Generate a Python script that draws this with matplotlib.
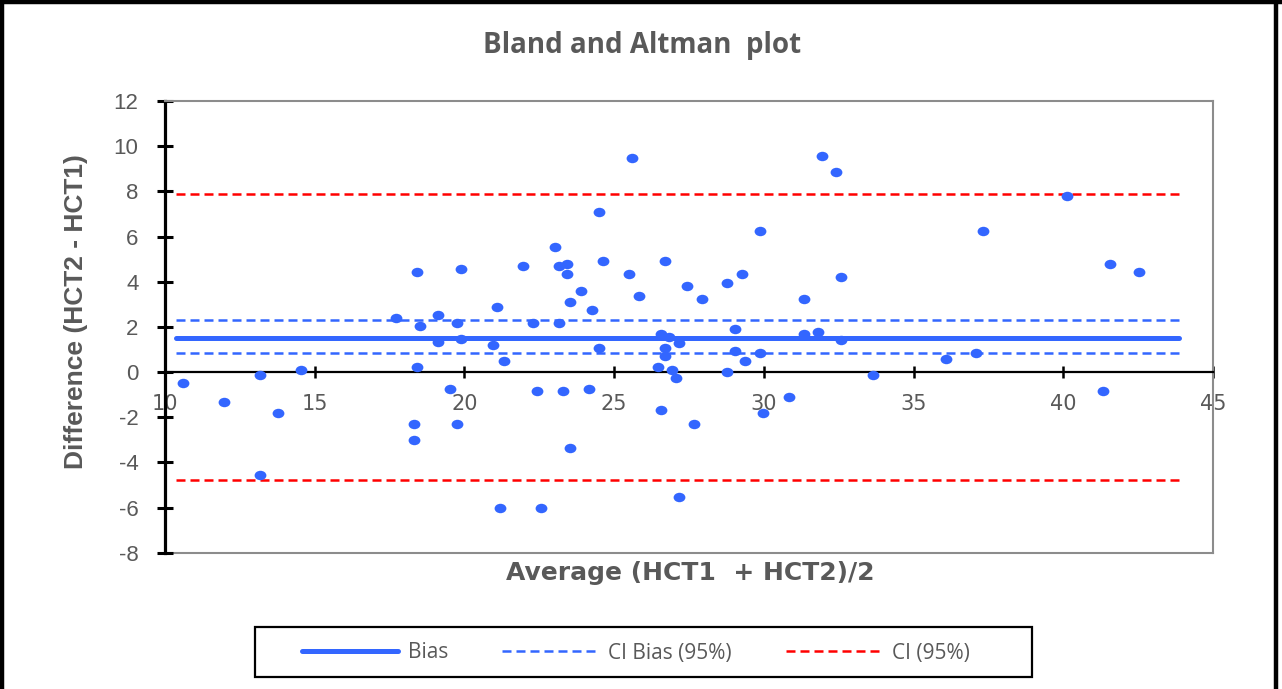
import matplotlib
matplotlib.use("Agg")
import matplotlib.pyplot as plt
from matplotlib.markers import MarkerStyle
from matplotlib.transforms import Affine2D
from matplotlib.lines import Line2D
from matplotlib.patches import Rectangle

plt.rcParams["axes.unicode_minus"] = False

# ---- data ----
average = [10.61, 11.96, 13.18, 13.79, 13.18, 14.53, 17.70, 18.42, 18.53, 18.42,
           18.30, 18.30, 19.13, 19.13, 19.52, 19.76, 19.76, 19.89, 19.89, 21.09,
           20.97, 21.33, 21.20, 21.96, 22.30, 22.42, 22.56, 23.03, 23.17, 23.42,
           23.42, 23.17, 23.53, 23.90, 23.30, 23.53, 24.27, 24.17, 24.50, 24.50,
           24.63, 25.60, 25.49, 25.83, 26.69, 26.58, 26.84, 27.18, 26.69, 26.69,
           26.45, 26.93, 27.07, 26.58, 27.43, 27.67, 27.18, 27.92, 28.78, 28.78,
           29.02, 29.02, 29.27, 29.38, 29.87, 29.87, 29.98, 30.84, 31.33, 31.33,
           31.82, 31.94, 32.42, 32.56, 32.56, 33.64, 36.09, 37.07, 37.31, 40.11,
           41.33, 41.57, 42.54]
difference = [-0.49, -1.34, -0.13, -1.82, -4.57, 0.11, 2.38, 4.43, 2.02, 0.23,
              -2.29, -3.02, 2.51, 1.32, -0.74, 2.17, -2.29, 4.55, 1.45, 2.87,
              1.18, 0.47, -6.00, 4.68, 2.16, -0.85, -6.00, 5.52, 4.68, 4.78,
              4.33, 2.16, 3.10, 3.57, -0.85, -3.38, 2.75, -0.74, 7.07, 1.06,
              4.92, 9.46, 4.33, 3.35, 4.92, 1.67, 1.56, 1.30, 1.06, 0.70,
              0.22, 0.11, -0.25, -1.68, 3.83, -2.29, -5.52, 3.22, 3.94, -0.01,
              1.90, 0.95, 4.33, 0.47, 0.83, 6.23, -1.81, -1.09, 3.22, 1.67,
              1.79, 9.58, 8.86, 4.19, 1.43, -0.15, 0.58, 0.83, 6.23, 7.79,
              -0.85, 4.78, 4.43]

bias = 1.50
ci_bias = [0.84, 2.29]
ci_limits = [-4.80, 7.90]
line_span = [10.37, 43.87]

x_ticks = [10, 15, 20, 25, 30, 35, 40, 45]
y_ticks = [-8, -6, -4, -2, 0, 2, 4, 6, 8, 10, 12]

title = "Bland and Altman  plot"
xlabel = "Average (HCT1  + HCT2)/2"
ylabel = "Difference (HCT2 - HCT1)"
legend_labels = ["Bias", "CI Bias (95%)", "CI (95%)"]

# ---- style ----
BLUE = "#3366ff"
RED = "#ff0000"
GRAY_TXT = "#595959"
GRAY_FRAME = "#8c8c8c"

W, H = 1282, 689
fig = plt.figure(figsize=(W / 100, H / 100), dpi=100)
ax = fig.add_axes([165 / W, 1 - 552.7 / H, (1213 - 165) / W, (552.7 - 101) / H])

ax.set_xlim(10, 45)
ax.set_ylim(-8, 12)

# reference lines
ax.plot(line_span, [bias, bias], color=BLUE, lw=3.6, solid_capstyle="round", zorder=2)
for v in ci_bias:
    ax.plot(line_span, [v, v], color=BLUE, lw=1.8, dashes=(3.6, 2.0), zorder=2)
for v in ci_limits:
    ax.plot(line_span, [v, v], color=RED, lw=1.8, dashes=(3.6, 2.0), zorder=2)

# points (slightly elliptical markers)
mk = MarkerStyle("o", transform=Affine2D().scale(1.25, 1.0))
ax.scatter(average, difference, marker=mk, s=6.8 ** 2, color=BLUE, linewidths=0, zorder=3)

# spines
ax.spines["bottom"].set_position(("data", 0))
ax.spines["bottom"].set_color("black")
ax.spines["bottom"].set_linewidth(1.6)
ax.spines["left"].set_color("black")
ax.spines["left"].set_linewidth(2.3)
for s in ("top", "right"):
    ax.spines[s].set_color(GRAY_FRAME)
    ax.spines[s].set_linewidth(1.5)
ax.plot([10, 45], [-8, -8], color=GRAY_FRAME, lw=1.5, clip_on=False, zorder=1)

ax.set_xticks(x_ticks)
ax.set_yticks(y_ticks)
ax.tick_params(axis="x", direction="inout", length=9, width=1.8, pad=11,
               labelsize=15, labelcolor=GRAY_TXT, color="black")
ax.tick_params(axis="y", direction="inout", length=12, width=2.2, pad=13,
               labelsize=16, labelcolor=GRAY_TXT, color="black")
for lab in ax.get_yticklabels():
    lab.set_family(["Liberation Sans", "DejaVu Sans"])
for lab in ax.get_xticklabels():
    lab.set_family(["DejaVu Sans"])

# texts
fig.text(642 / W, 1 - 46 / H, title, ha="center", va="center", fontsize=20,
         fontweight="bold", color=GRAY_TXT, family=["Open Sans", "DejaVu Sans"])
fig.text(690 / W, 1 - 573 / H, xlabel, ha="center", va="center", fontsize=18,
         fontweight="bold", color=GRAY_TXT, family=["DejaVu Sans"])
fig.text(76 / W, 1 - 312 / H, ylabel, ha="center", va="center", rotation=90,
         fontsize=19, fontweight="bold", color=GRAY_TXT,
         family=["Liberation Sans", "DejaVu Sans"])

# legend
handles = [
    Line2D([], [], color=BLUE, lw=3.6, solid_capstyle="round"),
    Line2D([], [], color=BLUE, lw=1.8, dashes=(3.6, 2.0)),
    Line2D([], [], color=RED, lw=1.8, dashes=(3.6, 2.0)),
]
leg = fig.legend(handles, legend_labels, loc="center", bbox_to_anchor=(0.496, 1 - 653 / H),
                 ncol=3, frameon=False, handlelength=4.6,
                 handletextpad=0.48, columnspacing=2.6,
                 prop={"family": ["Open Sans", "DejaVu Sans"], "size": 15})
for t in leg.get_texts():
    t.set_color(GRAY_TXT)
fig.add_artist(Rectangle((255 / W, 1 - 677 / H), (1032 - 255) / W, 50 / H,
                         transform=fig.transFigure, fill=False, edgecolor="black", lw=1.6))

# outer border of the picture
for xs, ys in (([2 / W, 2 / W], [0, 1]), ([0, 1], [1 - 2 / H, 1 - 2 / H]),
               ([1275.5 / W, 1275.5 / W], [0, 1])):
    fig.add_artist(Line2D(xs, ys, transform=fig.transFigure, color="black", lw=3.2))

fig.savefig("out.png", dpi=100)
